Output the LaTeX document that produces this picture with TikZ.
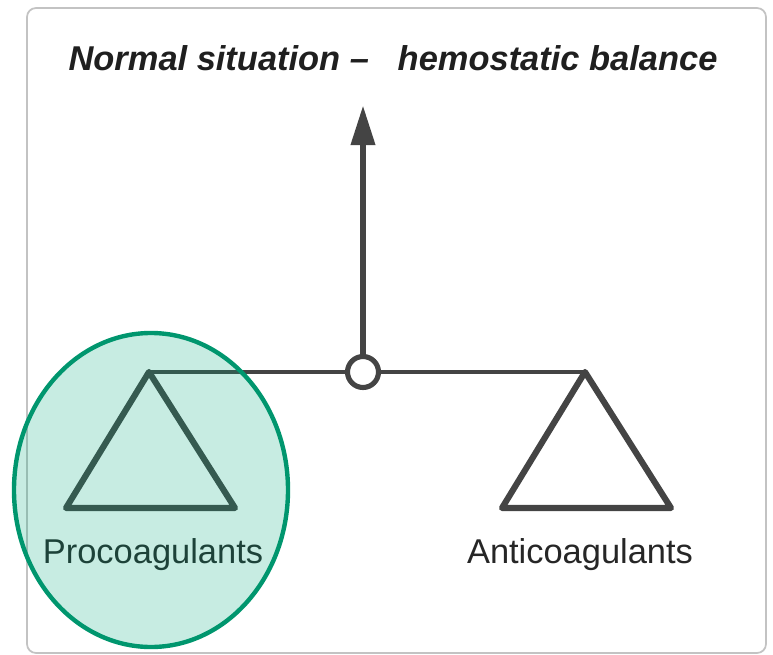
\documentclass[tikz,border=0pt]{standalone}
\usepackage{fontspec}
\setmainfont{Liberation Sans}
\usetikzlibrary{arrows.meta,shapes.geometric}
\definecolor{linegray}{RGB}{68,68,68}
\definecolor{framegray}{RGB}{195,195,195}
\definecolor{ovalgreen}{RGB}{0,150,110}
\definecolor{ovalfill}{RGB}{0,170,125}
\tikzstyle{pan}=[draw=linegray,
                line width=3.5pt,
                line join=round]
\tikzstyle{beam}=[draw=linegray,
                line width=1.8pt]
\tikzstyle{pivot}=[shape=circle,
                draw=linegray,
                fill=white,
                line width=2.9pt,
                inner sep=0pt,
                minimum size=0.62cm]
\tikzstyle{panlabel}=[text=black!85,
                font=\fontsize{19.6}{23}\selectfont]
\tikzstyle{hilite}=[shape=ellipse,
                draw=ovalgreen,
                line width=2.5pt,
                fill=ovalfill,
                fill opacity=0.22,
                draw opacity=1,
                inner sep=0pt,
                minimum width=5.48cm,
                minimum height=6.28cm]

\begin{document}
\begin{tikzpicture}[>=stealth,semithick]
\useasboundingbox (0,0) rectangle (15.46,-13.1);

% frame
\draw[framegray, line width=1pt, rounded corners=0.18cm] (0.54,-0.16) rectangle (15.32,-13.06);

% title
\node[text=black!88, font=\fontsize{19.6}{23}\selectfont\bfseries\itshape] (title) at (7.86,-1.16)
     {Normal situation --\ \ \ hemostatic balance};

% balance
\node[pivot] (pivot) at (7.26,-7.44) {};
\coordinate (tip) at (7.26,-2.1);
\coordinate (lapex) at (2.98,-7.44);
\coordinate (lbl) at (1.32,-10.16);
\coordinate (lbr) at (4.70,-10.16);
\coordinate (rapex) at (11.70,-7.44);
\coordinate (rbl) at (10.04,-10.16);
\coordinate (rbr) at (13.42,-10.16);

\draw[beam] (lapex) -- (pivot.west);
\draw[beam] (pivot.east) -- (rapex);
\draw[draw=linegray, line width=3.8pt, -{Triangle[length=0.8cm,width=0.46cm]}] (pivot.north) -- (tip);

% pans
\draw[pan] (lapex) -- (lbl) -- (lbr) -- cycle;
\draw[pan] (rapex) -- (rbl) -- (rbr) -- cycle;
\node[panlabel] (procolabel) at (3.06,-11.1) {Procoagulants};
\node[panlabel] (anticolabel) at (11.60,-11.1) {Anticoagulants};

% highlight
\node[hilite] (procoval) at (3.02,-9.8) {};
\end{tikzpicture}
\end{document}
